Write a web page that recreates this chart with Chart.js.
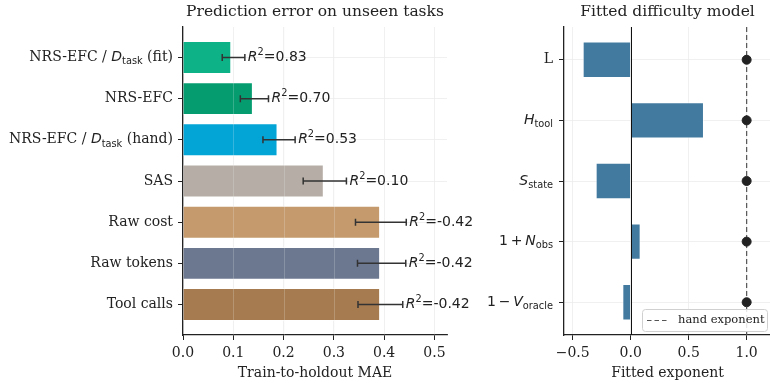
<!DOCTYPE html>
<html>
<head>
<meta charset="utf-8">
<script src="https://cdn.jsdelivr.net/npm/chart.js@4.4.1/dist/chart.umd.min.js"></script>
<style>
  html, body { margin: 0; padding: 0; background: #fff; }
  #wrap { position: relative; width: 770px; height: 383px; overflow: hidden; }
  #left { position: absolute; left: 0; top: 0; }
  #right { position: absolute; left: 460px; top: 0; }
</style>
</head>
<body>
<div id="wrap">
  <canvas id="left" width="480" height="383"></canvas>
  <canvas id="right" width="311" height="383"></canvas>
</div>
<script>
// left panel: prediction error
const methods = ['NRS-EFC / $D_{task}$ (fit)', 'NRS-EFC', 'NRS-EFC / $D_{task}$ (hand)', 'SAS', 'Raw cost', 'Raw tokens', 'Tool calls'];
const maeValues = [0.096, 0.139, 0.188, 0.280, 0.392, 0.392, 0.392];
const maeLow = [0.078, 0.114, 0.159, 0.239, 0.343, 0.347, 0.348];
const maeHigh = [0.123, 0.170, 0.223, 0.325, 0.444, 0.443, 0.437];
const r2Labels = ['0.83', '0.70', '0.53', '0.10', '-0.42', '-0.42', '-0.42'];
const methodColors = ['#0db387', '#059d70', '#03a5d6', '#b5ada6', '#c59b6d', '#6b7890', '#a67b50'];
const maeTicks = [0, 0.1, 0.2, 0.3, 0.4, 0.5];

// right panel: fitted exponents
const factors = ['L', '$H_{tool}$', '$S_{state}$', '$1+N_{obs}$', '$1-V_{oracle}$'];
const fittedExponents = [-0.414, 0.632, -0.302, 0.086, -0.072];
const handExponents = [1, 1, 1, 1, 1];
const exponentTicks = [-0.5, 0, 0.5, 1.0];

const SERIF = '"DejaVu Serif"';
const SANS = '"DejaVu Sans"';
const FS = 14;
const gridColor = '#ececec';
const axisColor = '#222';

// tiny mathtext-ish renderer: $..$ parts in sans, letters italic, _{..}/^{..} scripts
function richSegments(str, size, textFont) {
  const segs = [];
  str.split('$').forEach((part, i) => {
    if (!part) return;
    if (i % 2 === 0) {
      segs.push({ t: part, font: `${size}px ${textFont}`, dy: 0, pad: 0 });
      return;
    }
    let j = 0;
    while (j < part.length) {
      const c = part[j];
      if (c === '_' || c === '^') {
        const end = part.indexOf('}', j);
        segs.push({ t: part.slice(j + 2, end), font: `${size * 0.7}px ${SANS}`, dy: c === '_' ? size * 0.3 : -size * 0.36, pad: 0 });
        j = end + 1;
      } else if (c === '+' || c === '-') {
        segs.push({ t: c === '-' ? '\u2212' : '+', font: `${size}px ${SANS}`, dy: 0, pad: size * 0.2 });
        j++;
      } else if (/[A-Za-z]/.test(c)) {
        segs.push({ t: c, font: `italic ${size}px ${SANS}`, dy: 0, pad: 0 });
        j++;
      } else {
        segs.push({ t: c, font: `${size}px ${SANS}`, dy: 0, pad: 0 });
        j++;
      }
    }
  });
  return segs;
}

function drawRich(ctx, str, x, y, size, align, textFont) {
  const segs = richSegments(str, size, textFont || SERIF);
  let total = 0;
  segs.forEach(s => { ctx.font = s.font; s.w = ctx.measureText(s.t).width + 2 * s.pad; total += s.w; });
  let cx = align === 'right' ? x - total : x;
  ctx.textBaseline = 'middle';
  ctx.textAlign = 'left';
  segs.forEach(s => {
    ctx.font = s.font;
    ctx.fillText(s.t, cx + s.pad, y + s.dy);
    cx += s.w;
  });
}

function drawTitles(chart, title, xTitle) {
  const { ctx, chartArea } = chart;
  const cx = (chartArea.left + chartArea.right) / 2;
  ctx.save();
  ctx.fillStyle = '#222';
  ctx.textAlign = 'center';
  ctx.textBaseline = 'middle';
  ctx.font = `15.5px ${SERIF}`;
  ctx.fillText(title, cx, 12);
  ctx.font = `${FS}px ${SERIF}`;
  ctx.fillText(xTitle, cx, 373);
  ctx.restore();
}

function drawYLabels(chart, labels, gap) {
  const { ctx, chartArea } = chart;
  const ys = chart.scales.y;
  ctx.save();
  ctx.fillStyle = '#222';
  labels.forEach((lab, i) => {
    drawRich(ctx, lab, chartArea.left - gap, ys.getPixelForValue(i), FS, 'right');
  });
  ctx.restore();
}

// faint grid seen through the slightly transparent bars
function gridOverBars(chart, ticks) {
  const { ctx, chartArea } = chart;
  const xs = chart.scales.x;
  ctx.save();
  ctx.strokeStyle = 'rgba(240,240,240,0.22)';
  ctx.lineWidth = 1;
  ticks.forEach(v => {
    const x = Math.round(xs.getPixelForValue(v)) + 0.5;
    if (x <= chartArea.left + 1) return;
    ctx.beginPath();
    ctx.moveTo(x, chartArea.top); ctx.lineTo(x, chartArea.bottom);
    ctx.stroke();
  });
  ctx.restore();
}

function yScale(n, pad, width) {
  return {
    type: 'linear',
    reverse: true,
    offset: false,
    min: -pad,
    max: n - 1 + pad,
    afterBuildTicks: s => { s.ticks = Array.from({ length: n }, (_, i) => ({ value: i })); },
    afterFit: s => { s.width = width; },
    ticks: { display: false },
    grid: { offset: false, color: gridColor, lineWidth: 0.8, tickLength: 5, tickColor: axisColor, tickWidth: 1 },
    border: { color: axisColor, width: 1.3 }
  };
}

function xScale(min, max, ticks, fmt) {
  return {
    type: 'linear',
    min: min,
    max: max,
    afterBuildTicks: s => { s.ticks = ticks.map(v => ({ value: v })); },
    afterFit: s => { s.height = 48; s.paddingLeft = 0; s.paddingRight = 0; },
    ticks: {
      color: '#222',
      font: { family: 'DejaVu Serif', size: FS },
      padding: 5,
      maxRotation: 0,
      autoSkip: false,
      callback: fmt
    },
    grid: { color: gridColor, lineWidth: 0.8, tickLength: 5, tickColor: axisColor, tickWidth: 1 },
    border: { color: axisColor, width: 1.3 }
  };
}

const leftPlugin = {
  id: 'leftDecor',
  afterDatasetsDraw(chart) {
    const { ctx } = chart;
    const xs = chart.scales.x, ys = chart.scales.y;
    gridOverBars(chart, maeTicks);
    ctx.save();
    ctx.strokeStyle = '#333';
    ctx.lineWidth = 1.5;
    maeValues.forEach((v, i) => {
      const y = ys.getPixelForValue(i);
      const x0 = xs.getPixelForValue(maeLow[i]);
      const x1 = xs.getPixelForValue(maeHigh[i]);
      ctx.beginPath();
      ctx.moveTo(x0, y); ctx.lineTo(x1, y);
      ctx.moveTo(x0, y - 3.5); ctx.lineTo(x0, y + 3.5);
      ctx.moveTo(x1, y - 3.5); ctx.lineTo(x1, y + 3.5);
      ctx.stroke();
      ctx.fillStyle = '#222';
      drawRich(ctx, '$R^{2}$=' + r2Labels[i], x1 + 3, y, FS, 'left', SANS);
    });
    ctx.restore();
  },
  afterDraw(chart) {
    drawYLabels(chart, methods, 10);
    drawTitles(chart, 'Prediction error on unseen tasks', 'Train-to-holdout MAE');
  }
};

const rightPlugin = {
  id: 'rightDecor',
  beforeDatasetsDraw(chart) {
    const { ctx, chartArea } = chart;
    const xs = chart.scales.x;
    // hand exponent reference line
    ctx.save();
    const xh = xs.getPixelForValue(handExponents[0]);
    ctx.strokeStyle = '#555';
    ctx.lineWidth = 1.2;
    ctx.setLineDash([5, 3]);
    ctx.beginPath();
    ctx.moveTo(xh, chartArea.top); ctx.lineTo(xh, chartArea.bottom);
    ctx.stroke();
    ctx.restore();
  },
  afterDatasetsDraw(chart) {
    const { ctx, chartArea } = chart;
    const xs = chart.scales.x;
    // zero line on top of the bars
    ctx.save();
    const x0 = Math.round(xs.getPixelForValue(0)) + 0.5;
    ctx.strokeStyle = '#111';
    ctx.lineWidth = 1;
    ctx.beginPath();
    ctx.moveTo(x0, chartArea.top); ctx.lineTo(x0, chartArea.bottom);
    ctx.stroke();
    ctx.restore();
  },
  afterDraw(chart) {
    const { ctx, chartArea } = chart;
    drawYLabels(chart, factors, 11);
    drawTitles(chart, 'Fitted difficulty model', 'Fitted exponent');
    // legend box, lower right
    ctx.save();
    const bw = 125, bh = 22;
    const bx = chartArea.right - 4 - bw, by = chartArea.bottom - 4 - bh;
    ctx.fillStyle = 'rgba(255,255,255,0.85)';
    ctx.strokeStyle = '#d0d0d0';
    ctx.lineWidth = 1;
    ctx.beginPath();
    ctx.roundRect(Math.round(bx) + 0.5, Math.round(by) + 0.5, bw, bh, 3);
    ctx.fill();
    ctx.stroke();
    ctx.strokeStyle = '#555';
    ctx.lineWidth = 1.2;
    ctx.setLineDash([4.5, 3]);
    ctx.beginPath();
    ctx.moveTo(bx + 5, by + 11.5); ctx.lineTo(bx + 27, by + 11.5);
    ctx.stroke();
    ctx.fillStyle = '#222';
    ctx.font = `11.5px ${SERIF}`;
    ctx.textBaseline = 'middle';
    ctx.fillText('hand exponent', bx + 36, by + 11.5);
    ctx.restore();
  }
};

new Chart(document.getElementById('left'), {
  type: 'bar',
  data: {
    datasets: [{
      data: maeValues.map((v, i) => ({ x: v, y: i })),
      backgroundColor: methodColors,
      borderColor: 'rgba(255,255,255,0.6)',
      borderWidth: 1,
      barPercentage: 0.8,
      categoryPercentage: 1
    }]
  },
  options: {
    responsive: false,
    animation: false,
    devicePixelRatio: 1,
    indexAxis: 'y',
    layout: { autoPadding: false, padding: { top: 27, right: 33, left: 0, bottom: 0 } },
    plugins: { legend: { display: false }, tooltip: { enabled: false } },
    scales: {
      x: xScale(0, 0.525, maeTicks, v => v.toFixed(1)),
      y: yScale(methods.length, 0.74, 183)
    }
  },
  plugins: [leftPlugin]
});

new Chart(document.getElementById('right'), {
  type: 'bar',
  data: {
    datasets: [{
      type: 'bar',
      data: fittedExponents.map((v, i) => ({ x: v, y: i })),
      backgroundColor: '#427a9f',
      borderColor: 'rgba(255,255,255,0.6)',
      borderWidth: 1,
      barPercentage: 0.6,
      categoryPercentage: 1,
      order: 2
    }, {
      type: 'scatter',
      data: handExponents.map((v, i) => ({ x: v, y: i })),
      backgroundColor: '#222',
      borderColor: '#222',
      pointRadius: 4.5,
      order: 1
    }]
  },
  options: {
    responsive: false,
    animation: false,
    devicePixelRatio: 1,
    indexAxis: 'y',
    layout: { autoPadding: false, padding: { top: 27, right: 0, left: 0, bottom: 0 } },
    plugins: { legend: { display: false }, tooltip: { enabled: false } },
    scales: {
      x: xScale(-0.575, 1.21, exponentTicks, v => (v < 0 ? '\u2212' : '') + Math.abs(v).toFixed(1)),
      y: yScale(factors.length, 0.54, 104)
    }
  },
  plugins: [rightPlugin]
});
</script>
</body>
</html>
